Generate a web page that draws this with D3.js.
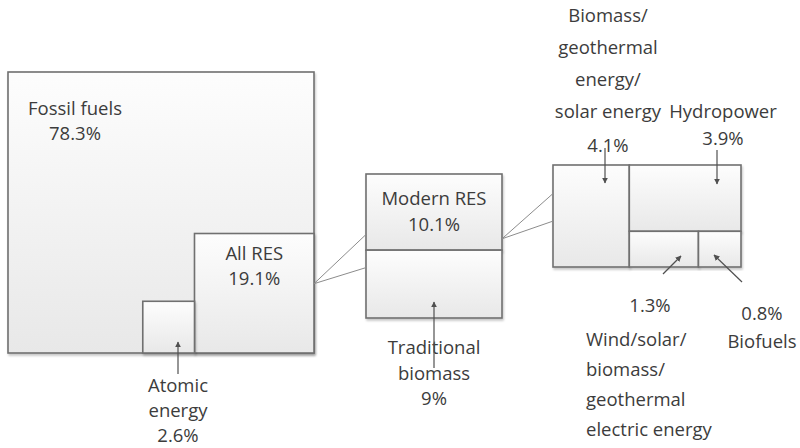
<!DOCTYPE html>
<html>
<head>
<meta charset="utf-8">
<script src="https://cdn.jsdelivr.net/npm/d3@7"></script>
<style>
  body { margin: 0; background: #fff; }
  svg text { font-family: "Open Sans", sans-serif; font-size: 18.5px; fill: #3c3c3c; }
</style>
</head>
<body>
<svg id="chart" width="800" height="448"></svg>
<script>
// shares of world energy consumption, %
const mainNames = ["Fossil fuels", "All RES", "Atomic energy"];
const mainValues = [78.3, 19.1, 2.6];

const resNames = ["Modern RES", "Traditional biomass"];
const resValues = [10.1, 9];

const modernNames = ["Biomass/|geothermal|energy/|solar energy", "Hydropower", "Wind/solar/|biomass/|geothermal|electric energy", "Biofuels"];
const modernValues = [4.1, 3.9, 1.3, 0.8];

const svg = d3.select("#chart");
const pct = v => v + "%";
const defs = svg.append("defs");

const grad = defs.append("linearGradient")
  .attr("id", "boxFill").attr("x1", 0).attr("y1", 0).attr("x2", 0).attr("y2", 1);
grad.append("stop").attr("offset", "0%").attr("stop-color", "#fdfdfd");
grad.append("stop").attr("offset", "100%").attr("stop-color", "#e8e8e8");

defs.append("filter").attr("id", "shadow")
  .attr("x", "-5%").attr("y", "-5%").attr("width", "115%").attr("height", "115%")
  .append("feDropShadow")
  .attr("dx", 1).attr("dy", 2).attr("stdDeviation", 1)
  .attr("flood-color", "#000").attr("flood-opacity", 0.22);

defs.append("marker")
  .attr("id", "arrow")
  .attr("viewBox", "0 0 10 10")
  .attr("refX", 9).attr("refY", 5)
  .attr("markerWidth", 6).attr("markerHeight", 6)
  .attr("markerUnits", "userSpaceOnUse")
  .attr("orient", "auto")
  .append("path").attr("d", "M0,0L10,5L0,10Z").attr("fill", "#505050");

function box(g, x, y, w, h) {
  return g.append("rect")
    .attr("x", x).attr("y", y).attr("width", w).attr("height", h)
    .attr("fill", "url(#boxFill)")
    .attr("stroke", "#707070").attr("stroke-width", 1.6)
    .attr("filter", "url(#shadow)");
}

function label(lines, x, y, dy, anchor) {
  const t = svg.append("text").attr("text-anchor", anchor || "middle");
  lines.forEach((s, i) => t.append("tspan").attr("x", x).attr("y", y + i * dy).text(s));
}

function arrow(x1, y1, x2, y2) {
  svg.append("line")
    .attr("x1", x1).attr("y1", y1).attr("x2", x2).attr("y2", y2)
    .attr("stroke", "#505050").attr("stroke-width", 1.2)
    .attr("marker-end", "url(#arrow)");
}

function connector(ax, ay, bx, by1, by2) {
  [by1, by2].forEach(by => svg.append("line")
    .attr("x1", ax).attr("y1", ay).attr("x2", bx).attr("y2", by)
    .attr("stroke", "#8c8c8c").attr("stroke-width", 1));
}

// --- left panel: whole consumption with nested squares
const frame = { x: 8, y: 72, w: 306, h: 281 };
const side = d3.scalePow().exponent(0.42).domain([0, mainValues[1]]).range([0, 119.5]);

const left = svg.append("g");
box(left, frame.x, frame.y, frame.w, frame.h);
const resSide = side(mainValues[1]);
const atomSide = side(mainValues[2]);
const resBox = { x: frame.x + frame.w - resSide, y: frame.y + frame.h - resSide, w: resSide, h: resSide };
box(left, resBox.x, resBox.y, resSide, resSide);
box(left, resBox.x - atomSide, frame.y + frame.h - atomSide, atomSide, atomSide);

label([mainNames[0], pct(mainValues[0])], 75, 115, 25);
label([mainNames[1], pct(mainValues[1])], resBox.x + resSide / 2, 260, 25);
label(mainNames[2].split(" ").concat(pct(mainValues[2])), 178, 392, 25);
arrow(178, 374, 178, 342);

// --- middle panel: all RES split
const mid = { x: 366, y: 174, w: 136, h: 144 };
const resRoot = d3.hierarchy({ children: resNames.map((n, i) => ({ name: n, value: resValues[i] })) })
  .sum(d => d.value || 0);
d3.treemap().tile(d3.treemapSlice).size([mid.w, mid.h])(resRoot);

const midG = svg.append("g").attr("transform", `translate(${mid.x},${mid.y})`);
resRoot.leaves().forEach(d => box(midG, d.x0, d.y0, d.x1 - d.x0, d.y1 - d.y0));

connector(resBox.x + resSide, resBox.y + 0.42 * resSide, mid.x, mid.y + 0.42 * mid.h, mid.y + 0.65 * mid.h);

label([resNames[0], pct(resValues[0])], mid.x + mid.w / 2, 205, 25.5);
label(["Traditional", "biomass", pct(resValues[1])], mid.x + mid.w / 2, 354, 25.5);
arrow(434, 368, 434, 302);

// --- right panel: modern RES split
const right = { x: 553, y: 165, w: 188, h: 102 };
const modRoot = d3.hierarchy({
  children: [
    { name: modernNames[0], value: modernValues[0] },
    { children: [
      { name: modernNames[1], value: modernValues[1] },
      { children: [
        { name: modernNames[2], value: modernValues[2] },
        { name: modernNames[3], value: modernValues[3] }
      ] }
    ] }
  ]
}).sum(d => d.value || 0);
d3.treemap().tile(d3.treemapSliceDice).size([right.w, right.h])(modRoot);

const rightG = svg.append("g").attr("transform", `translate(${right.x},${right.y})`);
modRoot.leaves().forEach(d => box(rightG, d.x0, d.y0, d.x1 - d.x0, d.y1 - d.y0));

connector(mid.x + mid.w, mid.y + 0.45 * mid.h, right.x, right.y + 0.28 * right.h, right.y + 0.55 * right.h);

label(modernNames[0].split("|"), 608, 22, 32);
label([pct(modernValues[0])], 608, 152, 0);
arrow(605, 148, 605, 183);

label([modernNames[1], pct(modernValues[1])], 723, 118, 27);
arrow(717, 150, 717, 184);

label([pct(modernValues[2])], 650, 312, 0);
label(modernNames[2].split("|"), 586, 346, 30, "start");
arrow(663, 274, 681, 256);

label([pct(modernValues[3]), modernNames[3]], 762, 320, 28);
arrow(742, 282, 714, 255);
</script>
</body>
</html>
